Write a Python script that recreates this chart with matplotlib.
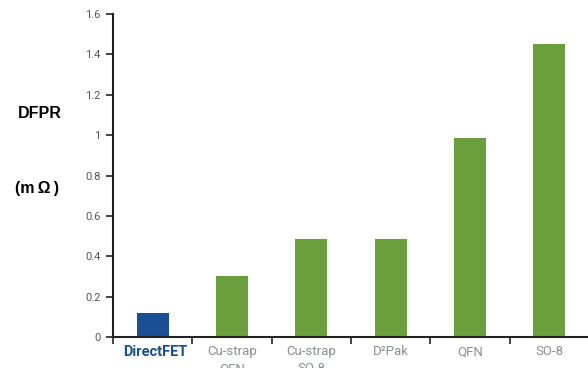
import matplotlib
matplotlib.use("Agg")
import matplotlib.pyplot as plt
from matplotlib.ticker import FixedLocator

categories = ["DirectFET", "Cu-strap\nQFN", "Cu-strap\nSO-8", "D²Pak", "QFN", "SO-8"]
values = [0.12, 0.30, 0.485, 0.485, 0.985, 1.45]
yticks = [0, 0.2, 0.4, 0.6, 0.8, 1, 1.2, 1.4, 1.6]
ytick_labels = ["0", "0.2", "0.4", "0.6", "0.8", "1", "1.2", "1.4", "1.6"]

green = "#6b9f3e"
blue = "#1b4f93"
gray = "#8a8f94"
tickfont = ["Roboto", "DejaVu Sans"]

fig = plt.figure(figsize=(5.88, 3.68), dpi=100)
ax = fig.add_axes([113/588, 1-337/368, 476/588, (337-14)/368])

x = list(range(len(categories)))
colors = [blue] + [green]*(len(categories)-1)
ax.bar(x, values, width=0.40, color=colors, zorder=2)

ax.set_xlim(-0.5, len(categories)-0.5)
ax.set_ylim(0, 1.6)
ax.set_yticks(yticks)
ax.set_yticklabels(ytick_labels, fontsize=8, color="#555555", family=tickfont)
ax.tick_params(axis="y", length=5, width=1.2, color="#222222", pad=4)

ax.xaxis.set_major_locator(FixedLocator([i + 0.5 for i in range(-1, len(categories))]))
ax.set_xticklabels([])
ax.tick_params(axis="x", length=5, width=1.2, color="#222222", direction="out")

for i, lab in enumerate(categories):
    if i == 0:
        ax.text(i + 0.03, -0.04, lab, ha="center", va="top", fontsize=10.5, fontweight="bold",
                color=blue, family=tickfont, clip_on=False)
    else:
        ax.text(i, -0.04, lab, ha="center", va="top", fontsize=9.5,
                color=gray, family=tickfont, clip_on=False, linespacing=1.4)

for s in ["top", "right"]:
    ax.spines[s].set_visible(False)
for s in ["left", "bottom"]:
    ax.spines[s].set_linewidth(1.5)
    ax.spines[s].set_color("#222222")

fig.text(40/588, 1-113/368, "DFPR", ha="center", va="center", fontsize=11.5,
         fontweight="bold", family=["Liberation Sans", "DejaVu Sans"])
fig.text(37/588, 1-188/368, "(m\u2009\u03a9\u2009)", ha="center", va="center", fontsize=11.5,
         fontweight="bold", family=["Liberation Sans", "DejaVu Sans"])

fig.savefig("out.png", dpi=100)
